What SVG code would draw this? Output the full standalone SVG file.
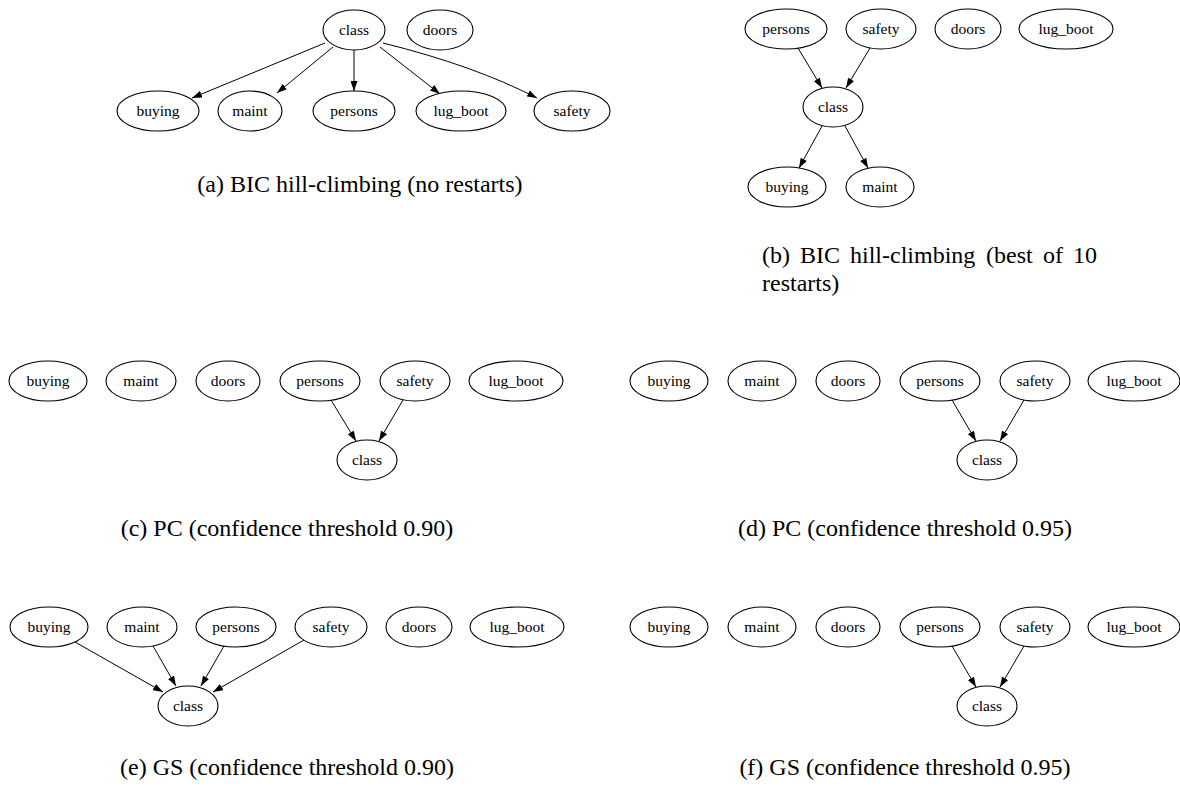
<svg xmlns="http://www.w3.org/2000/svg" width="1180" height="789" viewBox="0 0 1180 789">
<style>
.n ellipse{fill:#fff;stroke:#000;stroke-width:1.1}
.n text{font-family:"Liberation Serif","Times New Roman",serif;font-size:15.5px;text-anchor:middle;fill:#000}
.e{stroke:#000;stroke-width:1;fill:none;marker-end:url(#ah)}
.cap{font-family:"Liberation Serif","Times New Roman",serif;font-size:24px;fill:#000}
</style>
<defs>
<marker id="ah" markerUnits="userSpaceOnUse" viewBox="0 0 10 7" markerWidth="10" markerHeight="7" refX="10" refY="3.5" orient="auto">
<path d="M0,0 L10,3.5 L0,7 z" fill="#000"/>
</marker>
</defs>
<rect width="1180" height="789" fill="#fff"/>

<g id="connectors">
<!-- (a) -->
<line class="e" x1="325" y1="43" x2="192" y2="98"/>
<line class="e" x1="333" y1="47" x2="277" y2="93"/>
<line class="e" x1="354" y1="50" x2="354" y2="91"/>
<line class="e" x1="380" y1="47" x2="440" y2="94"/>
<path class="e" d="M383,43 Q474,65.5 537,98"/>
<!-- (b) -->
<line class="e" x1="798" y1="48" x2="822" y2="88"/>
<line class="e" x1="870" y1="48" x2="846" y2="88"/>
<line class="e" x1="822" y1="126" x2="799" y2="168"/>
<line class="e" x1="845" y1="126" x2="868" y2="168"/>
<!-- (c) -->
<line class="e" x1="331" y1="400" x2="356" y2="441"/>
<line class="e" x1="403" y1="400" x2="379" y2="441"/>
<!-- (d) -->
<line class="e" x1="952" y1="400" x2="976" y2="441"/>
<line class="e" x1="1024" y1="400" x2="1000" y2="441"/>
<!-- (e) -->
<line class="e" x1="75" y1="642" x2="163" y2="692"/>
<line class="e" x1="153" y1="646" x2="176" y2="686"/>
<line class="e" x1="224" y1="646" x2="201" y2="686"/>
<line class="e" x1="304" y1="640" x2="213" y2="692"/>
<!-- (f) -->
<line class="e" x1="952" y1="646" x2="976" y2="687"/>
<line class="e" x1="1024" y1="646" x2="1000" y2="687"/>
</g>

<!-- panel (a) -->
<g id="a-class" class="n"><ellipse cx="354" cy="30" rx="31" ry="20"/><text x="354" y="35">class</text></g>
<g id="a-doors" class="n"><ellipse cx="440" cy="30" rx="33" ry="20"/><text x="440" y="35">doors</text></g>
<g id="a-buying" class="n"><ellipse cx="158" cy="111" rx="41" ry="20"/><text x="158" y="116">buying</text></g>
<g id="a-maint" class="n"><ellipse cx="250" cy="111" rx="32" ry="20"/><text x="250" y="116">maint</text></g>
<g id="a-persons" class="n"><ellipse cx="354" cy="111" rx="41" ry="20"/><text x="354" y="116">persons</text></g>
<g id="a-lug_boot" class="n"><ellipse cx="461" cy="111" rx="45" ry="20"/><text x="461" y="116">lug_boot</text></g>
<g id="a-safety" class="n"><ellipse cx="572" cy="111" rx="38" ry="20"/><text x="572" y="116">safety</text></g>

<!-- panel (b) -->
<g id="b-persons" class="n"><ellipse cx="786" cy="29" rx="41" ry="20"/><text x="786" y="34">persons</text></g>
<g id="b-safety" class="n"><ellipse cx="881" cy="29" rx="35" ry="20"/><text x="881" y="34">safety</text></g>
<g id="b-doors" class="n"><ellipse cx="968" cy="29" rx="33" ry="20"/><text x="968" y="34">doors</text></g>
<g id="b-lug_boot" class="n"><ellipse cx="1066" cy="29" rx="47" ry="20"/><text x="1066" y="34">lug_boot</text></g>
<g id="b-class" class="n"><ellipse cx="833" cy="107" rx="30" ry="20"/><text x="833" y="112">class</text></g>
<g id="b-buying" class="n"><ellipse cx="787" cy="187" rx="39" ry="20"/><text x="787" y="192">buying</text></g>
<g id="b-maint" class="n"><ellipse cx="880" cy="187" rx="34" ry="20"/><text x="880" y="192">maint</text></g>

<!-- panel (c) -->
<g id="c-buying" class="n"><ellipse cx="48" cy="381" rx="39" ry="20"/><text x="48" y="386">buying</text></g>
<g id="c-maint" class="n"><ellipse cx="141" cy="381" rx="35" ry="20"/><text x="141" y="386">maint</text></g>
<g id="c-doors" class="n"><ellipse cx="228" cy="381" rx="32" ry="20"/><text x="228" y="386">doors</text></g>
<g id="c-persons" class="n"><ellipse cx="320" cy="381" rx="40" ry="20"/><text x="320" y="386">persons</text></g>
<g id="c-safety" class="n"><ellipse cx="415" cy="381" rx="35" ry="20"/><text x="415" y="386">safety</text></g>
<g id="c-lug_boot" class="n"><ellipse cx="516" cy="381" rx="47" ry="20"/><text x="516" y="386">lug_boot</text></g>
<g id="c-class" class="n"><ellipse cx="367" cy="460" rx="30" ry="20"/><text x="367" y="465">class</text></g>

<!-- panel (d) -->
<g id="d-buying" class="n"><ellipse cx="669" cy="381" rx="39" ry="20"/><text x="669" y="386">buying</text></g>
<g id="d-maint" class="n"><ellipse cx="762" cy="381" rx="34" ry="20"/><text x="762" y="386">maint</text></g>
<g id="d-doors" class="n"><ellipse cx="848" cy="381" rx="32" ry="20"/><text x="848" y="386">doors</text></g>
<g id="d-persons" class="n"><ellipse cx="940" cy="381" rx="40" ry="20"/><text x="940" y="386">persons</text></g>
<g id="d-safety" class="n"><ellipse cx="1035" cy="381" rx="35" ry="20"/><text x="1035" y="386">safety</text></g>
<g id="d-lug_boot" class="n"><ellipse cx="1134" cy="381" rx="46" ry="20"/><text x="1134" y="386">lug_boot</text></g>
<g id="d-class" class="n"><ellipse cx="987" cy="460" rx="30" ry="20"/><text x="987" y="465">class</text></g>

<!-- panel (e) -->
<g id="e-buying" class="n"><ellipse cx="49" cy="627" rx="39" ry="20"/><text x="49" y="632">buying</text></g>
<g id="e-maint" class="n"><ellipse cx="142" cy="627" rx="35" ry="20"/><text x="142" y="632">maint</text></g>
<g id="e-persons" class="n"><ellipse cx="236" cy="627" rx="40" ry="20"/><text x="236" y="632">persons</text></g>
<g id="e-safety" class="n"><ellipse cx="331" cy="627" rx="36" ry="20"/><text x="331" y="632">safety</text></g>
<g id="e-doors" class="n"><ellipse cx="419" cy="627" rx="33" ry="20"/><text x="419" y="632">doors</text></g>
<g id="e-lug_boot" class="n"><ellipse cx="517" cy="627" rx="47" ry="20"/><text x="517" y="632">lug_boot</text></g>
<g id="e-class" class="n"><ellipse cx="188" cy="706" rx="30" ry="20"/><text x="188" y="711">class</text></g>

<!-- panel (f) -->
<g id="f-buying" class="n"><ellipse cx="669" cy="627" rx="39" ry="20"/><text x="669" y="632">buying</text></g>
<g id="f-maint" class="n"><ellipse cx="762" cy="627" rx="34" ry="20"/><text x="762" y="632">maint</text></g>
<g id="f-doors" class="n"><ellipse cx="848" cy="627" rx="32" ry="20"/><text x="848" y="632">doors</text></g>
<g id="f-persons" class="n"><ellipse cx="940" cy="627" rx="40" ry="20"/><text x="940" y="632">persons</text></g>
<g id="f-safety" class="n"><ellipse cx="1035" cy="627" rx="35" ry="20"/><text x="1035" y="632">safety</text></g>
<g id="f-lug_boot" class="n"><ellipse cx="1134" cy="627" rx="46" ry="20"/><text x="1134" y="632">lug_boot</text></g>
<g id="f-class" class="n"><ellipse cx="987" cy="706" rx="30" ry="20"/><text x="987" y="711">class</text></g>

<g id="captions">
<text class="cap" x="360" y="192" text-anchor="middle">(a) BIC hill-climbing (no restarts)</text>
<text class="cap" y="263"><tspan x="762">(b)</tspan><tspan x="800">BIC</tspan><tspan x="850">hill-climbing</tspan><tspan x="986">(best</tspan><tspan x="1043">of</tspan><tspan x="1073">10</tspan></text>
<text class="cap" x="762" y="291">restarts)</text>
<text class="cap" x="287" y="536" text-anchor="middle">(c) PC (confidence threshold 0.90)</text>
<text class="cap" x="905" y="536" text-anchor="middle">(d) PC (confidence threshold 0.95)</text>
<text class="cap" x="287" y="775" text-anchor="middle">(e) GS (confidence threshold 0.90)</text>
<text class="cap" x="905" y="775" text-anchor="middle">(f) GS (confidence threshold 0.95)</text>
</g>
</svg>
